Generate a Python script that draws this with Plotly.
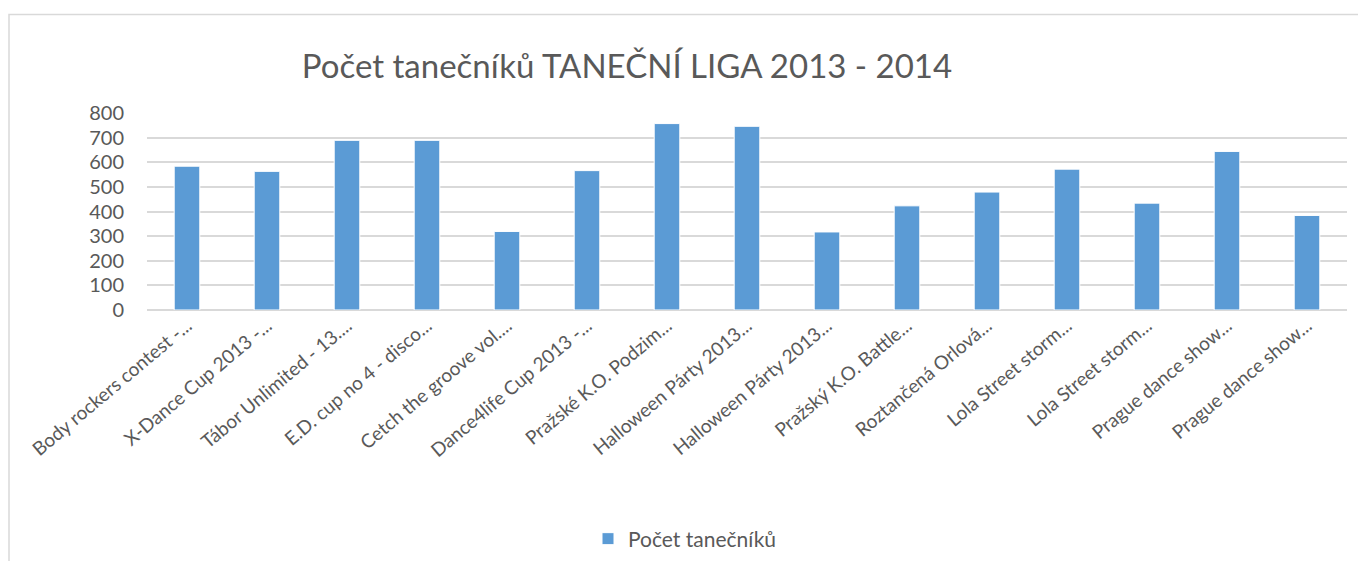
import plotly.graph_objects as go

categories = [
    "Body rockers contest -...",
    "X-Dance Cup 2013 -...",
    "Tábor Unlimited - 13....",
    "E.D. cup no 4 - disco...",
    "Cetch the groove vol....",
    "Dance4life Cup 2013 -...",
    "Pražské K.O. Podzim...",
    "Halloween Párty 2013...",
    "Halloween Párty 2013...",
    "Pražský K.O. Battle...",
    "Roztančená Orlová...",
    "Lola Street storm...",
    "Lola Street storm...",
    "Prague dance show...",
    "Prague dance show...",
]
values = [584, 563, 689, 689, 319, 566, 757, 746, 317, 423, 479, 572, 434, 644, 384]
series_name = "Počet tanečníků"
title_text = "Počet tanečníků TANEČNÍ LIGA 2013 - 2014"
y_ticks = [0, 100, 200, 300, 400, 500, 600, 700, 800]

FONT = "Lato, Carlito, Calibri, sans-serif"
GRAY = "#595959"
BLUE = "#5B9BD5"

# figure is placed by the page with an 8px body margin
W, H = 1350, 553
L, R, T, B = 139, 11, 105, 251
PW, PH = W - L - R, H - T - B

x_idx = list(range(len(categories)))

fig = go.Figure()
fig.add_trace(go.Bar(
    x=x_idx,
    y=values,
    name=series_name,
    marker=dict(color=BLUE, line=dict(color="#FFFFFF", width=1)),
    width=0.32,
    showlegend=True,
))

fig.update_layout(
    width=W,
    height=H,
    paper_bgcolor="white",
    plot_bgcolor="white",
    margin=dict(l=L, r=R, t=T, b=B, pad=0, autoexpand=False),
    title=dict(
        text=title_text,
        font=dict(family=FONT, size=33, color=GRAY),
        x=619 / W,
        xanchor="center",
        xref="container",
        y=1 - 58 / H,
        yanchor="middle",
        yref="container",
    ),
    xaxis=dict(
        tickmode="array",
        tickvals=x_idx,
        ticktext=categories,
        tickangle=-40,
        range=[-0.5, len(categories) - 0.5],
        showgrid=False,
        showline=False,
        zeroline=False,
        ticks="",
        tickfont=dict(family=FONT, size=19, color=GRAY),
        fixedrange=True,
    ),
    yaxis=dict(
        range=[0, 800],
        tickvals=y_ticks,
        showgrid=True,
        gridcolor="#D9D9D9",
        gridwidth=1.5,
        zeroline=True,
        zerolinecolor="#D9D9D9",
        zerolinewidth=1.5,
        showline=False,
        ticks="",
        ticklabelstandoff=22,
        tickfont=dict(family=FONT, size=20, color=GRAY),
        fixedrange=True,
    ),
    legend=dict(
        orientation="h",
        x=580 / W,
        xref="container",
        xanchor="left",
        y=1 - 531 / H,
        yref="container",
        yanchor="middle",
        font=dict(family=FONT, size=21, color=GRAY),
        itemwidth=30,
    ),
    shapes=[
        dict(
            type="rect",
            xref="paper", yref="paper",
            x0=(1 - L) / PW, x1=(1400 - L) / PW,
            y0=(T + PH - 600) / PH, y1=(T + PH - 6.5) / PH,
            line=dict(color="#D9D9D9", width=1.5),
            fillcolor="rgba(0,0,0,0)",
            layer="below",
        )
    ],
)

fig.write_html("out.html")
